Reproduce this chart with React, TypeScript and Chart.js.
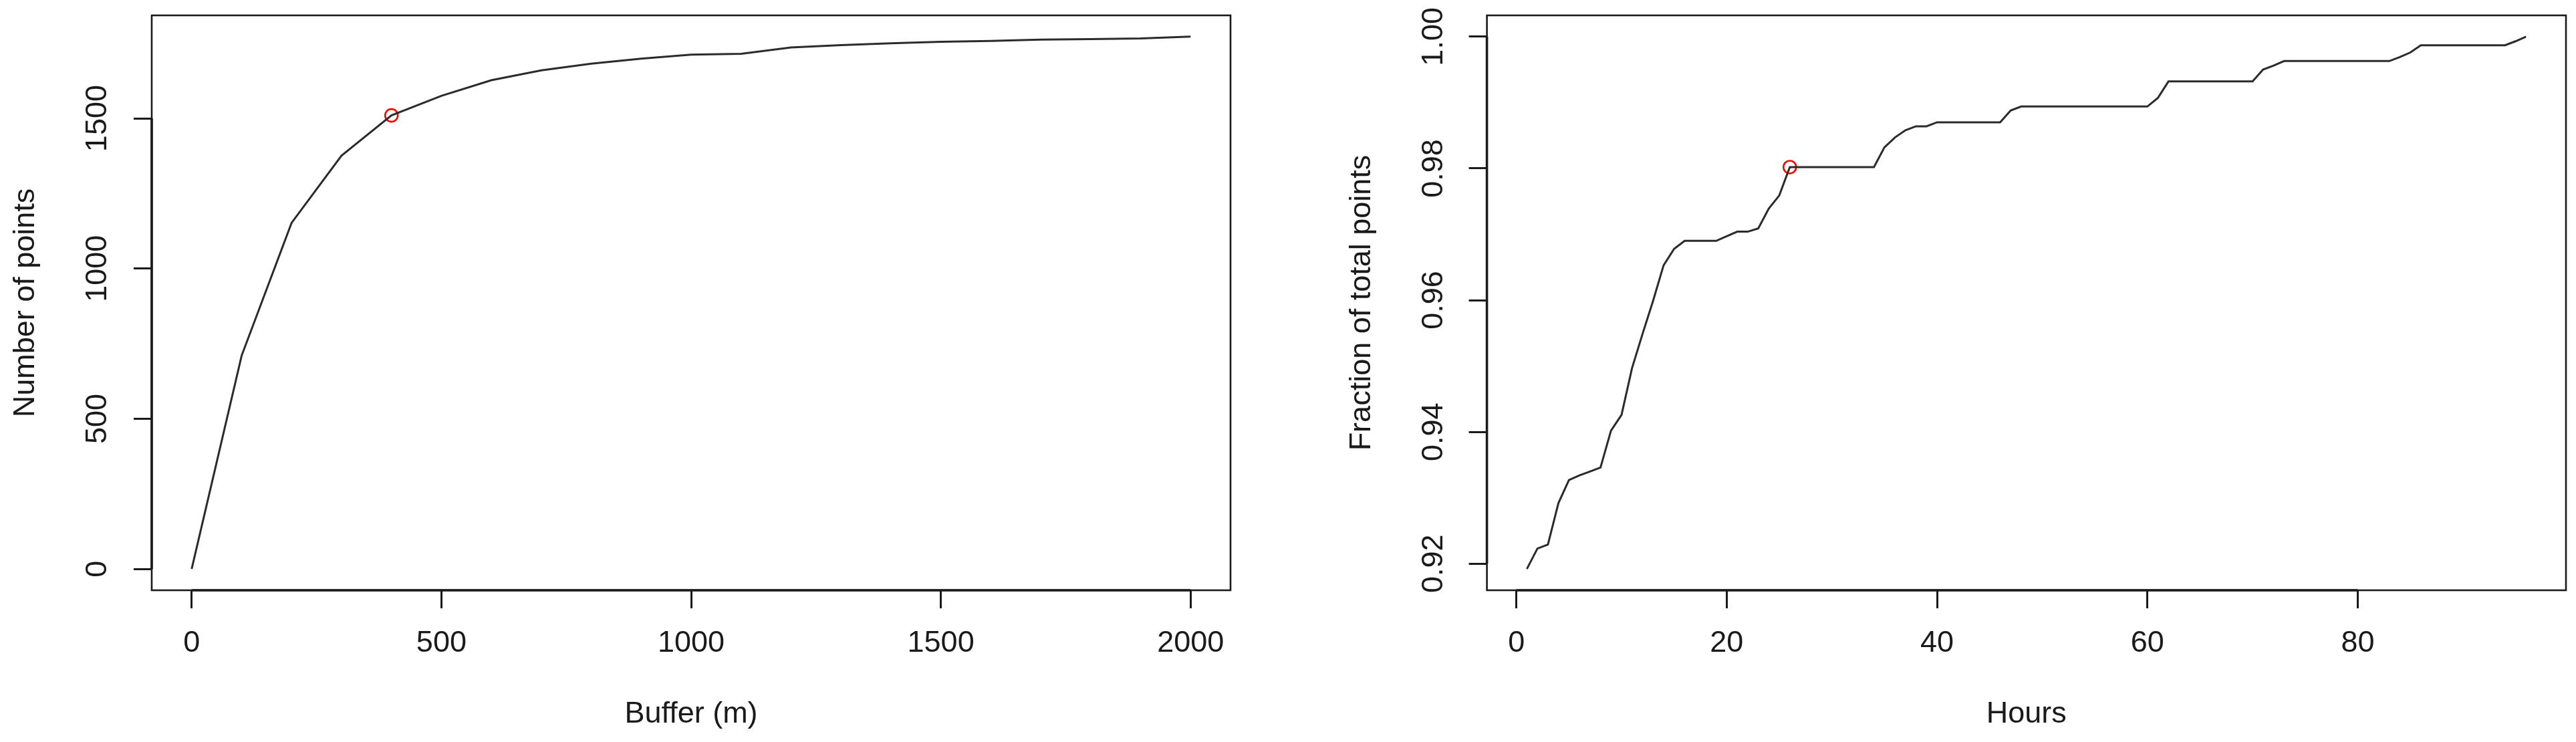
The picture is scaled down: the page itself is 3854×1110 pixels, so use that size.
import React, { useEffect, useRef } from 'react';
import { Chart, registerables } from 'chart.js';

Chart.register(...registerables);

// ---------- Left panel data ----------
const bufferMeters = [0, 100, 200, 300, 400, 500, 600, 700, 800, 900, 1000, 1100, 1200, 1300, 1400, 1500, 1600, 1700, 1800, 1900, 2000];
const pointCounts = [0, 710, 1152, 1376, 1510, 1575, 1627, 1660, 1682, 1699, 1712, 1715, 1736, 1744, 1750, 1755, 1758, 1762, 1764, 1766, 1772];
const bufferTicks = [0, 500, 1000, 1500, 2000];
const countTicks = [0, 500, 1000, 1500];
const highlightBuffer = 400;

// ---------- Right panel data ----------
const hours = [
  1, 2, 3, 4, 5, 6, 7, 8, 9, 10, 11, 12, 13, 14, 15, 16, 17, 18, 19, 20,
  21, 22, 23, 24, 25, 26, 27, 28, 29, 30, 31, 32, 33, 34, 35, 36, 37, 38, 39, 40,
  41, 42, 43, 44, 45, 46, 47, 48, 49, 50, 51, 52, 53, 54, 55, 56, 57, 58, 59, 60,
  61, 62, 63, 64, 65, 66, 67, 68, 69, 70, 71, 72, 73, 74, 75, 76, 77, 78, 79, 80,
  81, 82, 83, 84, 85, 86, 87, 88, 89, 90, 91, 92, 93, 94, 95, 96,
];
const fractions = [
  0.9192, 0.9223, 0.9229, 0.9292, 0.9327, 0.9334, 0.9340, 0.9346, 0.9402, 0.9426,
  0.9497, 0.9549, 0.9599, 0.9653, 0.9678, 0.9690, 0.9690, 0.9690, 0.9690, 0.9697,
  0.9704, 0.9704, 0.9709, 0.9739, 0.9759, 0.9802, 0.9802, 0.9802, 0.9802, 0.9802,
  0.9802, 0.9802, 0.9802, 0.9802, 0.9832, 0.9847, 0.9858, 0.9864, 0.9864, 0.9870,
  0.9870, 0.9870, 0.9870, 0.9870, 0.9870, 0.9870, 0.9888, 0.9894, 0.9894, 0.9894,
  0.9894, 0.9894, 0.9894, 0.9894, 0.9894, 0.9894, 0.9894, 0.9894, 0.9894, 0.9894,
  0.9907, 0.9932, 0.9932, 0.9932, 0.9932, 0.9932, 0.9932, 0.9932, 0.9932, 0.9932,
  0.9950, 0.9956, 0.9963, 0.9963, 0.9963, 0.9963, 0.9963, 0.9963, 0.9963, 0.9963,
  0.9963, 0.9963, 0.9963, 0.9969, 0.9976, 0.9987, 0.9987, 0.9987, 0.9987, 0.9987,
  0.9987, 0.9987, 0.9987, 0.9987, 0.9993, 1.0,
];
const hourTicks = [0, 20, 40, 60, 80];
const fractionTicks = [0.92, 0.94, 0.96, 0.98, 1.0];
const highlightHour = 26;

// ---------- styling ----------
const FAMILY = "'Liberation Sans', Arial, Helvetica, sans-serif";
const FONT_SIZE = 45;
const INK = '#1a1a1a';
const CANVAS_W = 1927;
const CANVAS_H = 1110;
const TICK_LEN = 27;

function rRange(vals: number[]): [number, number] {
  const lo = Math.min(...vals);
  const hi = Math.max(...vals);
  const d = (hi - lo) * 0.04;
  return [lo - d, hi + d];
}

function textWidth(txt: string): number {
  const c = document.createElement('canvas').getContext('2d')!;
  c.font = `${FONT_SIZE}px ${FAMILY}`;
  return c.measureText(txt).width;
}

const rFrame = {
  id: 'rFrame',
  afterDraw(chart: any) {
    const { ctx, chartArea: a, scales } = chart;
    const xs = scales.x;
    const ys = scales.y;
    ctx.save();
    ctx.strokeStyle = INK;
    ctx.lineWidth = 2.6;
    ctx.strokeRect(a.left, a.top, a.right - a.left, a.bottom - a.top);
    ctx.lineWidth = 3.6;
    ctx.beginPath();
    const xt = xs.ticks;
    const yt = ys.ticks;
    ctx.moveTo(xs.getPixelForValue(xt[0].value), a.bottom);
    ctx.lineTo(xs.getPixelForValue(xt[xt.length - 1].value), a.bottom);
    ctx.moveTo(a.left, ys.getPixelForValue(yt[0].value));
    ctx.lineTo(a.left, ys.getPixelForValue(yt[yt.length - 1].value));
    ctx.stroke();
    ctx.restore();
  },
};

interface PanelOpts {
  xs: number[];
  ys: number[];
  hx: number;
  xTicks: number[];
  yTicks: number[];
  xTitle: string;
  yTitle: string;
  yFmt: (v: number) => string;
  yAxisWidth: number;
  padRight: number;
  yTitlePad: number;
  yLabelOffset: number;
}

function buildConfig(o: PanelOpts): any {
  const [xMin, xMax] = rRange(o.xs);
  const [yMin, yMax] = rRange(o.ys);
  const hy = o.ys[o.xs.indexOf(o.hx)];
  const widest = Math.max(...o.yTicks.map((v) => textWidth(o.yFmt(v))));
  const yTickPad = o.yLabelOffset - TICK_LEN - widest / 2;
  const font = { family: FAMILY, size: FONT_SIZE };
  const gridOpts = {
    drawOnChartArea: false,
    drawTicks: true,
    tickLength: TICK_LEN,
    lineWidth: 3,
    tickWidth: 3,
    color: INK,
    tickColor: INK,
  };
  return {
    type: 'line',
    data: {
      datasets: [
        {
          data: o.xs.map((x, i) => ({ x, y: o.ys[i] })),
          borderColor: '#2b2b2b',
          borderWidth: 3,
          pointRadius: 0,
          tension: 0,
          fill: false,
        },
        {
          data: [{ x: o.hx, y: hy }],
          showLine: false,
          pointRadius: 9.5,
          pointBorderWidth: 2.6,
          pointBorderColor: '#ff0000',
          pointBackgroundColor: 'rgba(0,0,0,0)',
        },
      ],
    },
    options: {
      responsive: false,
      animation: false,
      devicePixelRatio: 1,
      events: [],
      layout: { padding: { left: 0, top: 23, right: o.padRight, bottom: 0 } },
      plugins: { legend: { display: false }, tooltip: { enabled: false } },
      scales: {
        x: {
          type: 'linear',
          min: xMin,
          max: xMax,
          afterBuildTicks: (s: any) => {
            s.ticks = o.xTicks.map((v) => ({ value: v }));
          },
          afterFit: (s: any) => {
            s.height = CANVAS_H - 23 - 860;
            s.paddingLeft = 0;
            s.paddingRight = 0;
          },
          grid: gridOpts,
          border: { display: false },
          ticks: {
            autoSkip: false,
            maxRotation: 0,
            minRotation: 0,
            padding: 25.5,
            color: INK,
            font,
            callback: (v: number) => String(v),
          },
          title: {
            display: true,
            text: o.xTitle,
            color: INK,
            font,
            padding: { top: 0, bottom: 14 },
          },
        },
        y: {
          type: 'linear',
          min: yMin,
          max: yMax,
          afterBuildTicks: (s: any) => {
            s.ticks = o.yTicks.map((v) => ({ value: v }));
          },
          afterFit: (s: any) => {
            s.width = o.yAxisWidth;
            s.paddingTop = 0;
            s.paddingBottom = 0;
          },
          grid: gridOpts,
          border: { display: false },
          ticks: {
            autoSkip: false,
            minRotation: 90,
            maxRotation: 90,
            crossAlign: 'center',
            padding: yTickPad,
            color: INK,
            font,
            callback: (v: number) => o.yFmt(v),
          },
          title: {
            display: true,
            text: o.yTitle,
            color: INK,
            font,
            padding: { top: o.yTitlePad, bottom: 0 },
          },
        },
      },
    },
    plugins: [rFrame],
  };
}

function Panel({ opts, left }: { opts: PanelOpts; left: number }) {
  const ref = useRef<HTMLCanvasElement | null>(null);
  useEffect(() => {
    if (!ref.current) return;
    const chart = new Chart(ref.current, buildConfig(opts));
    return () => chart.destroy();
  }, []);
  return (
    <canvas
      ref={ref}
      width={CANVAS_W}
      height={CANVAS_H}
      style={{ position: 'absolute', left, top: 0, width: CANVAS_W, height: CANVAS_H }}
    />
  );
}

const leftOpts: PanelOpts = {
  xs: bufferMeters,
  ys: pointCounts,
  hx: highlightBuffer,
  xTicks: bufferTicks,
  yTicks: countTicks,
  xTitle: 'Buffer (m)',
  yTitle: 'Number of points',
  yFmt: (v) => String(v),
  yAxisWidth: 227,
  padRight: CANVAS_W - 1841,
  yTitlePad: 12,
  yLabelOffset: 80,
};

const rightOpts: PanelOpts = {
  xs: hours,
  ys: fractions,
  hx: highlightHour,
  xTicks: hourTicks,
  yTicks: fractionTicks,
  xTitle: 'Hours',
  yTitle: 'Fraction of total points',
  yFmt: (v) => v.toFixed(2),
  yAxisWidth: 297.6,
  padRight: CANVAS_W - 1912,
  yTitlePad: 83.7,
  yLabelOffset: 79,
};

export default function App() {
  return (
    <div
      style={{
        position: 'absolute',
        left: 0,
        top: 0,
        width: 3854,
        height: 1110,
        background: '#ffffff',
        overflow: 'hidden',
      }}
    >
      <Panel opts={leftOpts} left={0} />
      <Panel opts={rightOpts} left={CANVAS_W} />
    </div>
  );
}
